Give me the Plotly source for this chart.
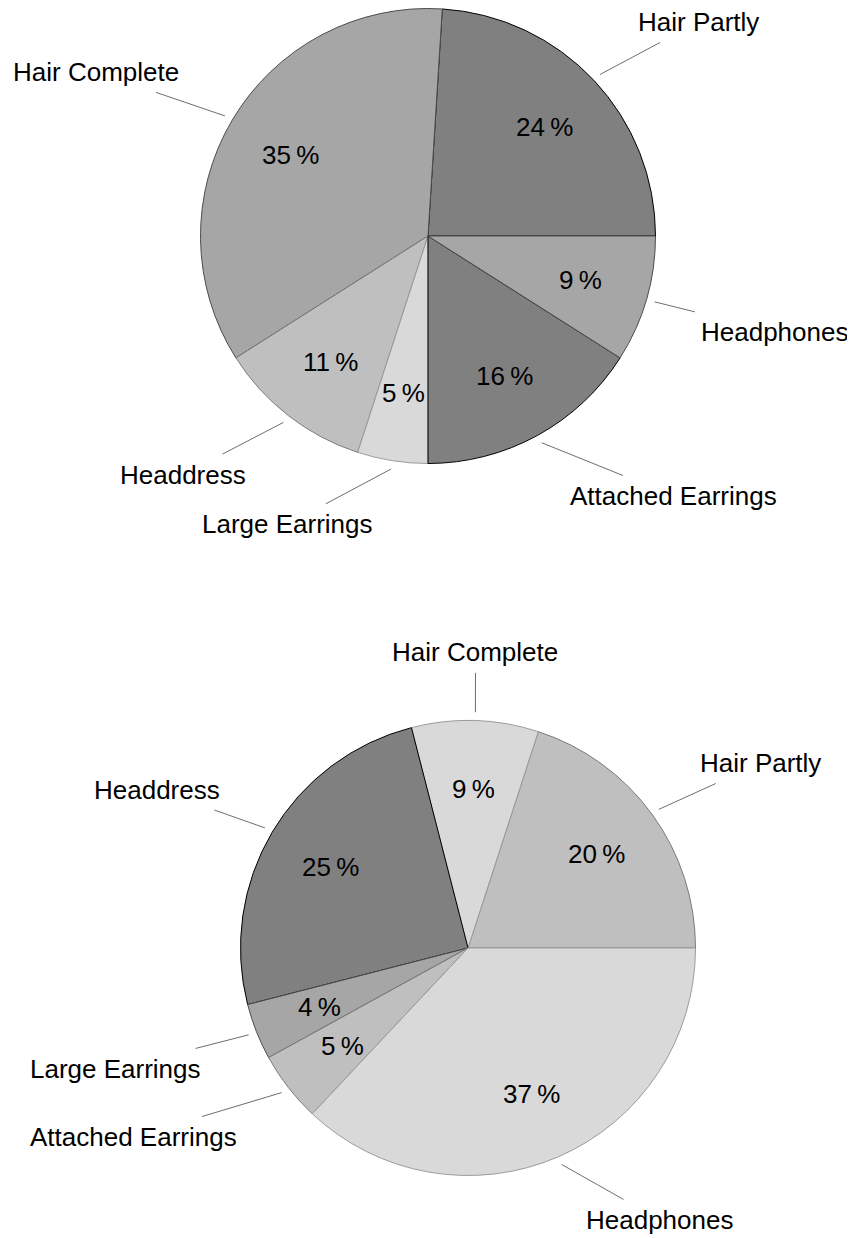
import math
import plotly.graph_objects as go

# ---------------- data ----------------
categories_top = ["Hair Partly", "Hair Complete", "Headdress", "Large Earrings",
                  "Attached Earrings", "Headphones"]
values_top = [24, 35, 11, 5, 16, 9]

categories_bottom = ["Hair Partly", "Hair Complete", "Headdress", "Large Earrings",
                     "Attached Earrings", "Headphones"]
values_bottom = [20, 9, 25, 4, 5, 37]

# ---------------- styles / layout ----------------
W, H = 855, 1238
OFF = 8           # default page body margin
FW, FH = W - OFF, H - OFF
FONT = "Liberation Sans, Arial, Helvetica, sans-serif"
FS = 26

fills_top = ["#808080", "#a6a6a6", "#bfbfbf", "#d9d9d9", "#808080", "#a6a6a6"]
fills_bottom = ["#bfbfbf", "#d9d9d9", "#808080", "#a6a6a6", "#bfbfbf", "#d9d9d9"]
EDGE = {"#808080": "#000000", "#a6a6a6": "#4d4d4d",
        "#bfbfbf": "#7a7a7a", "#d9d9d9": "#9c9c9c"}

# label placement (polar: angle deg ccw from east, distance in radii)
label_place_top = [(38.35, 1.516), (153.7, 1.628), (224.25, 1.503),
                   (244.0, 1.41), (313.4, 1.573), (344.56, 1.58)]
label_place_bottom = [(32.27, 1.523), (88.55, 1.30), (153.03, 1.536),
                      (198.94, 1.638), (209.5, 1.687), (305.2, 1.463)]

pies = [
    dict(cx=428, cy=236, r=227.5, cats=categories_top, vals=values_top,
         fills=fills_top, place=label_place_top),
    dict(cx=468, cy=948, r=227.5, cats=categories_bottom, vals=values_bottom,
         fills=fills_bottom, place=label_place_bottom),
]

PCT_R = 0.70      # percent label radius
LINE_R0 = 1.037   # leader start radius
BOX_PAD = 6       # gap between leader end and label box (x)
HALF_H = 20.5     # half height of label box incl. gap

CW = {" ": 278, "%": 889, "A": 667, "C": 722, "E": 667, "H": 722, "L": 556,
      "P": 667, "a": 556, "c": 500, "d": 556, "e": 556, "g": 556, "h": 556,
      "i": 222, "l": 222, "m": 833, "n": 556, "o": 556, "p": 556, "r": 333,
      "s": 500, "t": 278, "y": 500}


def text_w(s):
    return sum(CW.get(ch, 556) for ch in s) / 1000 * FS


def px(x):
    return (x - OFF) / FW


def py(y):
    return 1 - (y - OFF) / FH


fig = go.Figure()
annotations = []
shapes = []

for p in pies:
    cx, cy, R = p["cx"], p["cy"], p["r"]
    total = sum(p["vals"])
    # plotly's counterclockwise pies end the first slice at `rotation`;
    # shift so the first slice starts at 3 o'clock
    rot = 90 - p["vals"][0] / total * 360
    fig.add_trace(go.Pie(
        labels=p["cats"], values=p["vals"], sort=False,
        direction="counterclockwise", rotation=rot,
        textinfo="none", hoverinfo="label+percent",
        showlegend=False,
        marker=dict(colors=p["fills"],
                    line=dict(color=[EDGE[c] for c in p["fills"]], width=1)),
        domain=dict(x=[px(cx - R), px(cx + R)], y=[py(cy + R), py(cy - R)]),
    ))
    cum = 0.0
    for cat, v, (la, lr) in zip(p["cats"], p["vals"], p["place"]):
        a0 = cum / total * 360
        cum += v
        a1 = cum / total * 360
        mid = math.radians((a0 + a1) / 2)
        # percent label
        tx = cx + PCT_R * R * math.cos(mid)
        ty = cy - PCT_R * R * math.sin(mid)
        annotations.append(dict(x=px(tx), y=py(ty), xref="paper", yref="paper",
                                text=f"{round(v / total * 100)}\u2009%",
                                showarrow=False, xanchor="center", yanchor="middle",
                                font=dict(family=FONT, size=FS, color="#000")))
        # category label
        lx = cx + lr * R * math.cos(math.radians(la))
        ly = cy - lr * R * math.sin(math.radians(la))
        annotations.append(dict(x=px(lx), y=py(ly), xref="paper", yref="paper",
                                text=cat, showarrow=False,
                                xanchor="center", yanchor="middle",
                                font=dict(family=FONT, size=FS, color="#000")))
        # leader line
        sx = cx + LINE_R0 * R * math.cos(mid)
        sy = cy - LINE_R0 * R * math.sin(mid)
        dx, dy = sx - lx, sy - ly
        hw = text_w(cat) / 2 + BOX_PAD
        t = min(hw / abs(dx) if dx else 1e9, HALF_H / abs(dy) if dy else 1e9)
        ex, ey = lx + t * dx, ly + t * dy
        shapes.append(dict(type="line", xref="paper", yref="paper",
                           x0=px(sx), y0=py(sy), x1=px(ex), y1=py(ey),
                           line=dict(color="#6e6e6e", width=1)))

fig.update_layout(
    width=FW, height=FH,
    margin=dict(l=0, r=0, t=0, b=0, pad=0),
    paper_bgcolor="white", plot_bgcolor="white",
    annotations=annotations, shapes=shapes,
    font=dict(family=FONT, size=FS, color="#000"),
)

fig.write_html("out.html")
